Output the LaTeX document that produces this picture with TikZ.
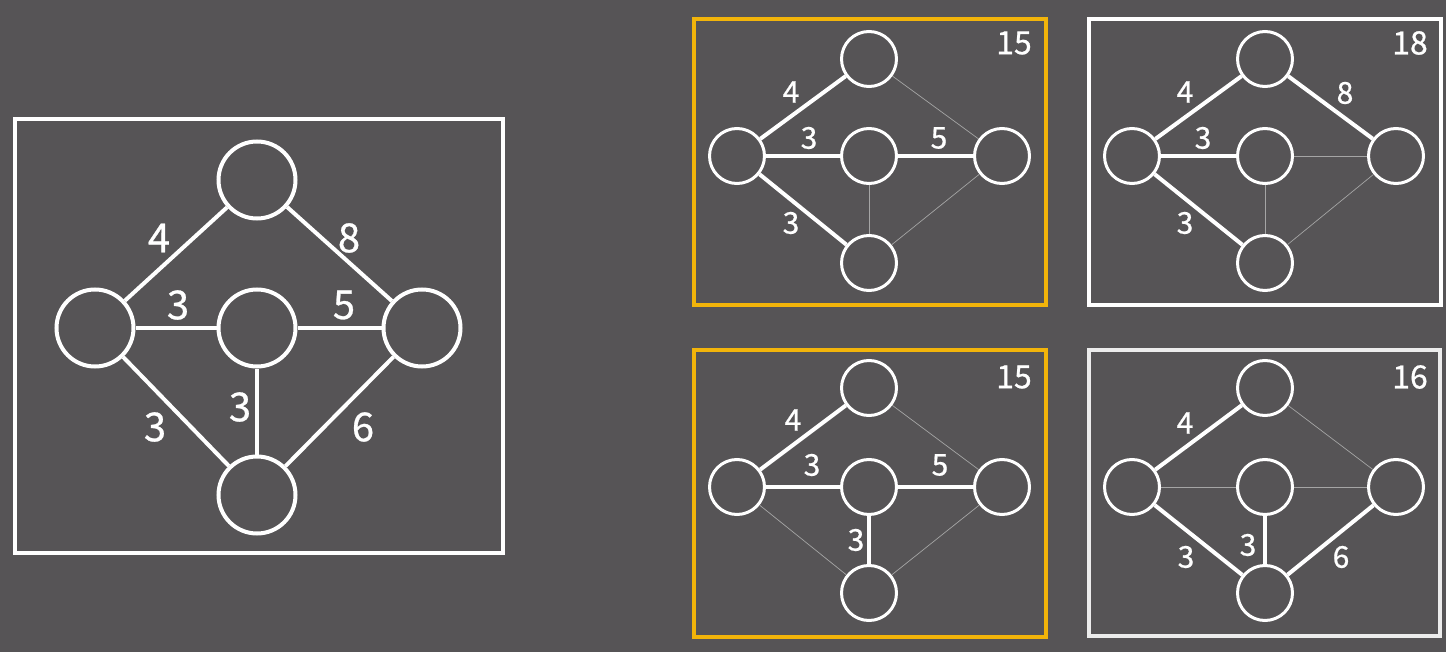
\documentclass[tikz,border=0pt]{standalone}
\usepackage{fontspec}
\newfontfamily\numfont[FakeBold=0.7]{Noto Sans CJK SC}
\usepackage{tikz}
\definecolor{bgray}{RGB}{86,84,86}
\definecolor{pickorange}{RGB}{242,180,10}
\definecolor{faint}{RGB}{165,165,165}
\definecolor{offwhite}{RGB}{236,236,236}

\begin{document}
\begin{tikzpicture}[x=1pt,y=-1pt]
\tikzstyle{vertex} =[circle,draw=white,line width=4pt,inner sep=0pt,minimum size=77pt]
\tikzstyle{svertex} =[circle,draw=white,line width=3pt,inner sep=0pt,minimum size=55pt]
\tikzstyle{heavy} =[white,line width=4pt]
\tikzstyle{light} =[faint,line width=0.7pt]
\tikzstyle{weight} =[text=white,inner sep=0pt,font=\numfont\fontsize{40}{40}\selectfont]
\tikzstyle{sweight} =[text=white,inner sep=0pt,font=\numfont\fontsize{30}{30}\selectfont]
\tikzstyle{total} =[text=white,inner sep=0pt,font=\numfont\fontsize{32}{32}\selectfont]

\fill[bgray] (0,0) rectangle (1446,652);
\useasboundingbox (0,0) rectangle (1446,652);

% the whole graph
\draw[white,line width=4pt] (15,119) rectangle (503,553);
\node[vertex](t) at (257,180){};
\node[vertex](l) at (95,328){};
\node[vertex](m) at (257,328){};
\node[vertex](r) at (422,328){};
\node[vertex](b) at (257,495){};
\draw[heavy] (l) -- (t);
\draw[heavy] (t) -- (r);
\draw[heavy] (l) -- (m);
\draw[heavy] (m) -- (r);
\draw[heavy] (l) -- (b);
\draw[heavy] (m) -- (b);
\draw[heavy] (r) -- (b);
\node[weight](wlt) at (159,238){4};
\node[weight](wtr) at (349,238){8};
\node[weight](wlm) at (178,305){3};
\node[weight](wmr) at (344,305){5};
\node[weight](wlb) at (155,427){3};
\node[weight](wmb) at (240,407){3};
\node[weight](wrb) at (363,427){6};

% tree 1
\draw[pickorange,line width=4pt] (694,19) rectangle (1046,305);
\node[svertex](at) at (869,59){};
\node[svertex](al) at (737,156){};
\node[svertex](am) at (869,156){};
\node[svertex](ar) at (1002,156){};
\node[svertex](ab) at (869,263){};
\draw[heavy] (al) -- (at);
\draw[heavy] (al) -- (am);
\draw[heavy] (am) -- (ar);
\draw[heavy] (al) -- (ab);
\draw[light] (at) -- (ar);
\draw[light] (am) -- (ab);
\draw[light] (ar) -- (ab);
\node[total](asum) at (1014,43){15};
\node[sweight](alt) at (791,92){4};
\node[sweight](alm) at (809,138){3};
\node[sweight](amr) at (939,138){5};
\node[sweight](alb) at (791,223){3};

% tree 2
\draw[white,line width=4pt] (1089,19) rectangle (1441,305);
\node[svertex](bt) at (1265,59){};
\node[svertex](bl) at (1132,156){};
\node[svertex](bm) at (1265,156){};
\node[svertex](br) at (1396,156){};
\node[svertex](bb) at (1265,263){};
\draw[heavy] (bl) -- (bt);
\draw[heavy] (bt) -- (br);
\draw[heavy] (bl) -- (bm);
\draw[heavy] (bl) -- (bb);
\draw[light] (bm) -- (br);
\draw[light] (bm) -- (bb);
\draw[light] (br) -- (bb);
\node[total](bsum) at (1410,43){18};
\node[sweight](blt) at (1185,92){4};
\node[sweight](btr) at (1345,93){8};
\node[sweight](blm) at (1203,138){3};
\node[sweight](blb) at (1185,223){3};

% tree 3
\draw[pickorange,line width=4pt] (694,350) rectangle (1046,637);
\node[svertex](ct) at (869,388){};
\node[svertex](cl) at (737,487){};
\node[svertex](cm) at (869,487){};
\node[svertex](cr) at (1002,487){};
\node[svertex](cb) at (869,593){};
\draw[heavy] (cl) -- (ct);
\draw[heavy] (cl) -- (cm);
\draw[heavy] (cm) -- (cr);
\draw[heavy] (cm) -- (cb);
\draw[light] (ct) -- (cr);
\draw[light] (cl) -- (cb);
\draw[light] (cr) -- (cb);
\node[total](csum) at (1014,377){15};
\node[sweight](clt) at (793,420){4};
\node[sweight](clm) at (812,465){3};
\node[sweight](cmr) at (940,465){5};
\node[sweight](cmb) at (856,540){3};

% tree 4
\draw[offwhite,line width=4pt] (1089,350) rectangle (1440,636);
\node[svertex](dt) at (1265,388){};
\node[svertex](dl) at (1132,487){};
\node[svertex](dm) at (1265,487){};
\node[svertex](dr) at (1396,487){};
\node[svertex](db) at (1265,593){};
\draw[heavy] (dl) -- (dt);
\draw[heavy] (dm) -- (db);
\draw[heavy] (dl) -- (db);
\draw[heavy] (dr) -- (db);
\draw[light] (dt) -- (dr);
\draw[light] (dl) -- (dm);
\draw[light] (dm) -- (dr);
\node[total](dsum) at (1410,377){16};
\node[sweight](dlt) at (1185,423){4};
\node[sweight](dlb) at (1186,557){3};
\node[sweight](dmb) at (1248,545){3};
\node[sweight](drb) at (1341,557){6};
\end{tikzpicture}
\end{document}
